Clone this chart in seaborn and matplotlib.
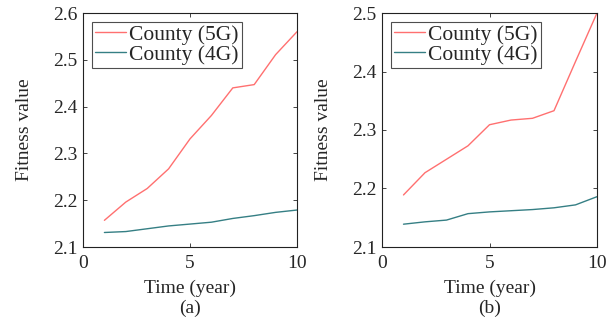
import pandas as pd
import seaborn as sns
import matplotlib.pyplot as plt

# data
years = [1, 2, 3, 4, 5, 6, 7, 8, 9, 10]
a_5g = [2.157, 2.196, 2.225, 2.267, 2.331, 2.381, 2.440, 2.447, 2.511, 2.560]
a_4g = [2.131, 2.133, 2.139, 2.145, 2.149, 2.153, 2.161, 2.167, 2.174, 2.179]
b_5g = [2.189, 2.227, 2.250, 2.273, 2.309, 2.317, 2.320, 2.333, 2.417, 2.500]
b_4g = [2.139, 2.143, 2.146, 2.157, 2.160, 2.162, 2.164, 2.167, 2.172, 2.186]
series_names = ["County (5G)", "County (4G)"]
palette = {"County (5G)": "#ff7070", "County (4G)": "#357f84"}

sns.set_style("ticks")
plt.rcParams["font.family"] = ["Liberation Serif", "DejaVu Serif"]

fig = plt.figure(figsize=(6.06, 3.2), dpi=100)
ax_a = fig.add_axes([83 / 606, 73 / 320, 214 / 606, 234 / 320])
ax_b = fig.add_axes([382 / 606, 73 / 320, 215 / 606, 234 / 320])


def make_df(s5, s4):
    return pd.DataFrame({
        "Time (year)": years * 2,
        "Fitness value": s5 + s4,
        "series": [series_names[0]] * len(years) + [series_names[1]] * len(years),
    })


panels = [
    (ax_a, make_df(a_5g, a_4g), (2.1, 2.6), [2.1, 2.2, 2.3, 2.4, 2.5, 2.6], "(a)"),
    (ax_b, make_df(b_5g, b_4g), (2.1, 2.5), [2.1, 2.2, 2.3, 2.4, 2.5], "(b)"),
]

for ax, df, ylim, yticks, tag in panels:
    sns.lineplot(data=df, x="Time (year)", y="Fitness value", hue="series",
                 palette=palette, linewidth=1.0, ax=ax)
    ax.set_xlim(0, 10)
    ax.set_ylim(*ylim)
    ax.set_xticks([0, 5, 10])
    ax.set_yticks(yticks)
    ax.set_yticklabels([f"{v:.1f}" for v in yticks])
    ax.tick_params(direction="in", top=True, right=True, length=3, width=0.6,
                   labelsize=14, pad=4)
    ax.tick_params(axis="x", pad=6)
    for sp in ax.spines.values():
        sp.set_linewidth(0.8)
        sp.set_color("#222222")
    ax.set_xlabel("Time (year)", fontsize=14, labelpad=5)
    ax.set_ylabel("Fitness value", fontsize=14, labelpad=14)
    leg = ax.legend(loc="upper left", fontsize=15.5, frameon=True, fancybox=False,
                    handlelength=1.45, handletextpad=0.15, borderpad=0.15,
                    labelspacing=0.0, borderaxespad=0.4)
    leg.get_frame().set_edgecolor("#222222")
    leg.get_frame().set_linewidth(0.8)
    leg.set_title(None)
    ax.text(0.5, -0.262, tag, transform=ax.transAxes, ha="center", va="center",
            fontsize=14)

fig.savefig("out.png", dpi=100)
